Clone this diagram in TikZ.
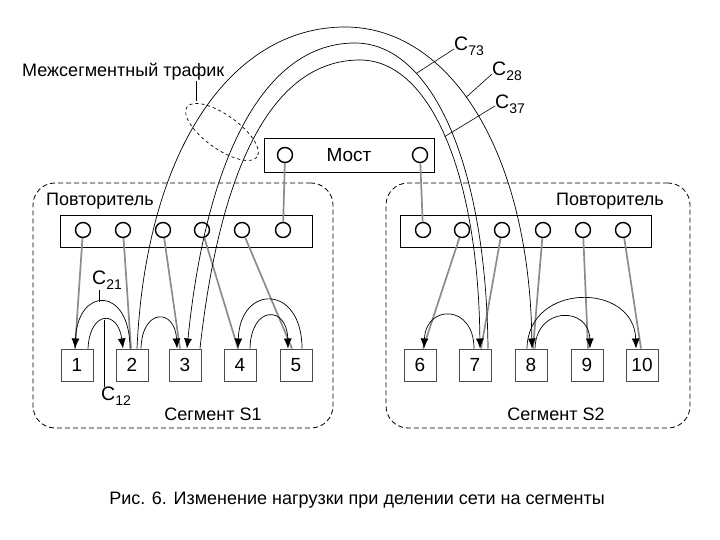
\documentclass[tikz,border=0pt]{standalone}
\usepackage{fontspec}
\setmainfont{Liberation Sans}
\usetikzlibrary{arrows.meta,calc}
\newcommand{\csub}[1]{C\raisebox{-0.5ex}{\fontsize{14}{14}\selectfont #1}}
\tikzset{
 lbl/.style={font=\fontsize{18}{20}\selectfont, inner sep=0pt},
 clbl/.style={font=\fontsize{19.5}{20}\selectfont, inner sep=0pt},
 segbox/.style={draw, dash pattern=on 5pt off 3pt, rounded corners=22pt, line width=0.8pt},
 bar/.style={draw, line width=0.9pt, fill=white},
 port/.style={circle, draw, line width=1.4pt, minimum size=15pt, inner sep=0pt, fill=white},
 host/.style={draw=black!70, line width=1pt, minimum size=32pt, inner sep=0pt, font=\fontsize{19}{20}\selectfont, fill=white},
 link/.style={draw=black!45, line width=1.7pt},
 flow/.style={draw=black, line width=0.7pt, -{Latex[length=10pt,width=8pt]}},
 lead/.style={draw=black, line width=0.6pt},
}
\begin{document}
\begin{tikzpicture}[x=1pt,y=-1pt]
\useasboundingbox (0,0) rectangle (720,540);

% segments
\node[segbox, minimum width=300pt, minimum height=245pt] (s1) at (183,305.5) {};
\node[segbox, minimum width=304pt, minimum height=245pt] (s2) at (538,305.5) {};

% repeaters and bridge
\node[bar, minimum width=252pt, minimum height=32pt] (r1) at (186,231) {};
\node[bar, minimum width=251pt, minimum height=32pt] (r2) at (525.5,231) {};
\node[bar, minimum width=170pt, minimum height=34pt, font=\fontsize{19}{20}\selectfont] (br) at (349,155) {Мост};

% ports
\foreach \x [count=\i] in {83,123,163,202,242,283} { \node[port] (a\i) at (\x,230) {}; }
\foreach \x [count=\i] in {423,462,502,543,583,623} { \node[port] (b\i) at (\x,230) {}; }
\node[port] (m1) at (285,155) {};
\node[port] (m2) at (420,155) {};

% hosts
\foreach \x [count=\i] in {77,132,185,240,296,420,475,531,587,642} { \node[host] (h\i) at (\x,365) {\i}; }

% gray links
\draw[link] (a1) -- ([xshift=-2pt]h1.north);
\draw[link] (a2) -- ([xshift=-1pt]h2.north);
\draw[link] (a3) -- ([xshift=-5pt]h3.north);
\draw[link] (a4) -- ([xshift=-2pt]h4.north);
\draw[link] (a5) -- ([xshift=-4pt]h5.north);
\draw[link] (a6) -- (m1);
\draw[link] (m2) -- (b1);
\draw[link] (b2) -- ([xshift=3pt]h6.north);
\draw[link] (b3) -- ([xshift=6pt]h7.north);
\draw[link] (b4) -- ([xshift=2pt]h8.north);
\draw[link] (b5) -- ([xshift=1pt]h9.north);
\draw[link] (b6) -- ([xshift=-1pt]h10.north);

% local flows
\draw[flow] ([xshift=-2pt]h2.north) .. controls (130,286) and (78,286) .. ([xshift=-2pt]h1.north) coordinate[pos=0.55] (k21);
\draw[flow] ([xshift=11pt]h1.north) .. controls (90,310) and (118,310) .. ([xshift=-9pt]h2.north) coordinate[pos=0.5] (k12);
\draw[flow] ([xshift=9pt]h2.north) .. controls (142,308) and (175,308) .. ([xshift=-8pt]h3.north);
\draw[flow] ([xshift=6pt]h5.north) .. controls (302,284) and (240,284) .. ([xshift=-2pt]h4.north);
\draw[flow] ([xshift=10pt]h4.north) .. controls (251,305) and (287,305) .. ([xshift=-8pt]h5.north);
\draw[flow] ([xshift=-1pt]h7.north) .. controls (474,304) and (426,304) .. ([xshift=4pt]h6.north);
\draw[flow] ([xshift=-4pt]h8.north) .. controls (528,282) and (634,282) .. ([xshift=-6pt]h10.north);
\draw[flow] ([xshift=4pt]h8.north) .. controls (536,306) and (589,306) .. ([xshift=3pt]h9.north);

% inter-segment flows
\coordinate (t28) at (345,27);
\coordinate (t73) at (355,43);
\coordinate (t37) at (360,60);
\draw[flow] ([xshift=5pt]h2.north) .. controls (146,150) and (231,27) .. (t28)
  .. controls (449,27) and (529,150) .. ([xshift=1pt]h8.north) coordinate[pos=0.45] (k28);
\draw[flow] ([xshift=13pt]h7.north) .. controls (486,160) and (430,43) .. (t73) coordinate[pos=0.7] (k73)
  .. controls (263,43) and (206,160) .. ([xshift=2pt]h3.north);
\draw[flow] ([xshift=15pt]h3.north) .. controls (220,168) and (272,60) .. (t37)
  .. controls (428,60) and (478,168) .. ([xshift=5pt]h7.north) coordinate[pos=0.5] (k37);

% labels
\node[lbl, anchor=west] (trf) at (22,72) {Межсегментный трафик};
\node[lbl] (rep1) at (100,201) {Повторитель};
\node[lbl] (rep2) at (610,201) {Повторитель};
\node[lbl] (sg1) at (213,414) {Сегмент S1};
\node[lbl] (sg2) at (556,414) {Сегмент S2};
\node[lbl, font=\fontsize{18}{20}\selectfont] (cap) at (357,500) {Рис. 6. Изменение нагрузки при делении сети на сегменты};

% interseg ellipse
\coordinate (ec) at (222,132);
\draw[dashed, line width=0.7pt, rotate around={-35.5:(ec)}] (ec) ellipse (43 and 17);
\coordinate (e1) at (196,101);
\draw[lead] (e1) -- (e1 |- trf.south);

% C labels
\node[clbl, anchor=west] (c73) at (454,46) {\csub{73}};
\node[clbl, anchor=west] (c28) at (492,71) {\csub{28}};
\node[clbl, anchor=west] (c37) at (495,104) {\csub{37}};
\draw[lead] ([yshift=-3pt]c73.west) -- (k73);
\draw[lead] ([yshift=-3pt]c28.west) -- (k28);
\draw[lead] ([yshift=-2pt]c37.west) -- (k37);
\node[clbl, anchor=south west] (c21) at (92,290) {\csub{21}};
\draw[lead] (k21) -- (k21 |- c21.south);
\node[clbl, anchor=north west] (c12) at (101,387) {\csub{12}};
\draw[lead] (k12) -- (k12 |- c12.north);
\end{tikzpicture}
\end{document}
